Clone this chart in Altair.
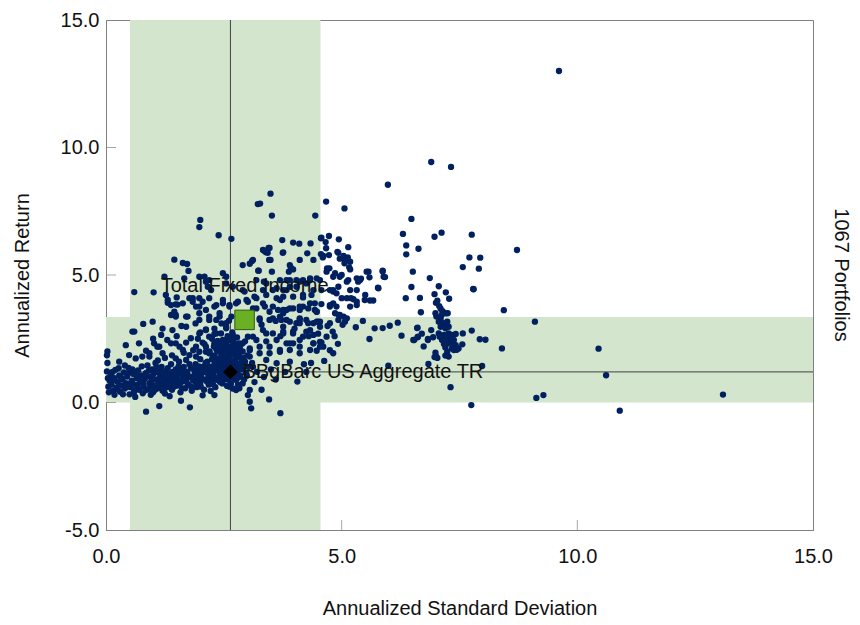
import altair as alt
import pandas as pd

# ---- portfolio points (annualized std dev, annualized return) ----
outliers = [(9.61, 13.0), (6.90, 9.43), (7.32, 9.24), (5.98, 8.54), (6.48, 7.20), (6.30, 6.61),
            (6.97, 6.50), (7.12, 6.66), (7.76, 6.58), (6.37, 6.16), (6.37, 5.81), (6.63, 6.03),
            (8.72, 5.98), (7.71, 5.69), (7.94, 5.68), (7.57, 5.31), (7.91, 5.25), (8.44, 3.62),
            (9.10, 3.17), (8.40, 2.12), (10.45, 2.11), (10.61, 1.07), (13.09, 0.31), (9.13, 0.18),
            (9.28, 0.29), (10.90, -0.32), (7.75, -0.10), (7.31, 0.60), (7.98, 1.43), (7.80, 4.44),
            (7.93, 2.48), (8.05, 2.46), (7.76, 2.82)]

right_cluster = [(5.87, 5.14), (5.92, 4.92), (6.51, 5.13), (6.87, 4.88), (6.48, 4.53), (7.06, 4.56),
                 (6.36, 4.09), (6.66, 4.10), (6.97, 4.25), (7.21, 4.32), (7.28, 4.07), (7.03, 3.99),
                 (7.00, 3.91), (7.07, 3.78), (7.10, 3.68), (7.14, 3.58), (6.99, 3.50), (7.21, 3.50),
                 (7.01, 3.37), (7.10, 3.29), (7.25, 3.50), (6.68, 3.54), (6.19, 3.13), (6.02, 3.01),
                 (5.87, 2.92), (6.61, 2.93), (6.27, 2.62), (7.06, 3.17), (7.17, 3.11), (7.24, 3.17),
                 (7.10, 2.97), (7.20, 2.91), (7.27, 2.97), (7.06, 2.71), (7.17, 2.65), (7.27, 2.71),
                 (7.34, 2.65), (7.42, 2.69), (7.13, 2.45), (7.24, 2.48), (7.32, 2.42), (7.17, 2.29),
                 (7.27, 2.32), (7.38, 2.25), (7.20, 2.16), (7.34, 2.12), (7.44, 2.09), (7.08, 2.58),
                 (6.70, 2.70), (6.90, 2.84), (6.52, 2.45), (6.61, 2.56), (6.74, 2.20), (6.83, 2.49),
                 (6.94, 2.56), (7.57, 2.71), (7.56, 2.28), (7.44, 2.07), (6.84, 1.51), (7.00, 1.82),
                 (6.97, 1.78), (7.20, 1.84), (7.23, 1.88), (7.03, 1.75), (7.27, 1.80), (6.99, 1.95),
                 (7.13, 3.45), (7.31, 2.58), (7.38, 2.45), (7.42, 2.25), (7.24, 1.99), (7.38, 2.06),
                 (7.48, 2.12), (5.70, 2.91), (5.59, 2.49), (6.60, 2.92), (6.54, 2.45), (6.62, 2.58),
                 (6.83, 2.45), (5.99, 1.44), (7.79, 4.45), (5.78, 4.48), (5.60, 4.00), (5.67, 4.00)]

mid_upper = [(4.67, 7.88), (5.06, 7.61), (4.44, 7.33), (4.73, 6.53), (4.94, 6.40), (4.57, 6.46),
             (5.14, 6.09), (4.66, 6.29), (4.61, 5.75), (4.93, 5.87), (5.04, 5.75), (5.07, 5.59),
             (4.96, 5.64), (5.16, 5.30), (4.74, 5.26), (4.68, 5.13), (4.82, 4.93), (4.96, 4.93),
             (5.14, 4.80), (5.57, 5.13), (5.59, 4.91), (5.41, 4.86), (5.35, 4.74), (5.32, 4.41),
             (5.20, 4.09), (5.32, 3.95), (5.77, 4.50), (5.49, 4.02), (4.82, 3.89), (4.89, 4.28),
             (5.00, 4.09), (5.11, 4.09), (5.25, 4.05), (4.94, 3.43), (5.04, 3.37), (5.07, 3.17),
             (4.67, 6.05), (4.73, 5.78), (4.91, 5.91), (5.13, 5.69), (5.06, 5.46), (5.18, 5.52),
             (4.69, 5.26), (4.86, 5.07), (5.00, 5.00), (5.18, 5.22), (5.32, 4.87), (5.53, 5.13),
             (5.39, 4.80), (5.11, 4.74), (4.93, 4.54), (4.82, 4.35), (5.18, 4.41), (5.50, 4.22),
             (4.75, 3.82), (4.89, 3.76), (5.18, 3.76), (5.32, 3.82), (4.96, 3.43), (5.11, 3.30),
             (5.87, 5.17), (5.89, 4.93)]

mid_band = [(4.81, 2.78), (4.57, 2.36), (4.61, 2.19), (4.47, 2.03), (4.63, 1.63), (4.06, 0.82),
            (3.70, -0.42), (4.70, 3.00), (4.85, 2.60), (4.92, 2.30), (5.02, 3.05), (5.30, 2.95),
            (5.45, 3.20), (4.75, 2.05), (3.46, 0.12), (3.05, 0.03), (3.08, -0.23), (2.83, 0.56),
            (3.01, 0.29), (4.25, 1.20), (4.35, 1.55)]

inner_band = [(3.74, 6.37), (3.97, 6.27), (4.10, 6.23), (4.34, 6.24), (4.27, 5.85), (3.76, 5.89),
              (4.56, 6.44), (4.56, 5.82), (4.60, 5.69), (3.90, 5.39), (3.97, 5.22), (4.11, 5.59),
              (4.40, 5.59), (3.88, 5.13), (3.69, 4.80), (3.90, 4.80), (4.11, 4.74), (4.33, 4.80),
              (4.47, 4.87), (3.83, 4.41), (3.97, 4.15), (4.18, 4.22), (4.36, 4.22), (4.43, 3.89),
              (4.57, 3.86), (3.76, 3.63), (3.97, 3.69), (4.18, 3.76), (4.47, 3.56), (3.72, 3.24),
              (3.90, 3.17), (4.04, 3.11), (4.25, 3.24), (4.40, 3.11), (4.54, 3.17), (3.76, 2.71),
              (3.97, 2.78), (4.25, 2.78), (4.40, 2.65), (3.83, 2.32), (4.11, 2.45), (4.54, 2.38),
              (3.49, 8.19), (3.27, 7.80), (3.52, 7.33), (3.33, 5.98), (3.39, 5.89), (3.45, 6.06),
              (3.75, 5.87), (3.12, 5.59), (3.46, 5.59), (3.92, 5.30), (3.24, 5.17), (3.52, 5.13),
              (3.35, 4.74), (3.33, 4.41), (3.62, 4.48), (3.76, 4.41), (3.90, 4.54), (4.04, 4.80),
              (4.18, 4.80), (4.33, 4.87), (3.15, 4.15), (3.40, 4.22), (3.62, 4.09), (3.76, 4.15),
              (4.18, 4.12), (4.57, 4.41), (4.75, 4.41), (3.19, 3.69), (3.37, 3.76), (3.47, 3.56),
              (3.65, 3.63), (3.76, 3.50), (3.90, 3.69), (4.11, 3.63), (4.29, 3.69), (4.43, 3.63),
              (3.26, 3.30), (3.47, 3.24), (3.69, 3.37), (4.11, 3.24), (4.29, 3.11), (4.50, 3.17),
              (3.22, 7.78), (3.10, 5.55), (3.05, 5.44), (2.90, 5.39)]

left_upper = [(2.00, 7.16), (1.98, 6.88), (2.39, 6.56), (2.66, 6.42), (1.45, 5.60), (1.63, 5.47),
              (1.72, 5.43), (1.75, 5.16), (1.01, 4.32), (1.27, 4.22), (1.31, 4.02), (1.48, 3.85),
              (2.09, 4.93), (2.12, 4.74), (2.16, 4.54), (2.23, 4.41), (2.48, 5.07), (2.55, 4.93),
              (2.94, 4.35), (1.84, 4.09), (1.98, 4.09), (2.80, 3.95), (3.01, 3.95), (3.19, 4.09),
              (0.60, 4.33), (1.24, 4.93), (1.66, 4.87), (1.98, 4.93), (2.19, 4.80), (2.55, 4.67),
              (2.69, 4.54), (2.90, 4.41), (3.19, 4.80), (3.40, 4.67), (3.54, 4.41), (3.83, 4.80),
              (4.04, 4.54), (4.25, 4.67), (4.40, 4.41), (4.54, 4.80), (4.82, 4.41), (1.50, 4.12),
              (1.38, 3.82), (1.63, 3.89), (1.77, 4.09), (1.91, 3.76), (2.05, 3.95), (2.19, 4.09),
              (2.34, 3.82), (2.48, 4.02), (2.62, 3.76), (2.76, 3.89), (2.98, 4.02), (3.12, 3.69),
              (3.33, 3.89), (3.54, 3.76), (3.69, 4.02), (3.83, 3.63), (4.11, 3.76), (4.33, 3.89),
              (4.47, 3.56), (4.75, 3.76), (4.86, 3.50), (4.93, 3.24), (1.48, 3.37), (1.70, 3.37),
              (1.98, 3.24), (2.34, 3.24), (2.55, 3.11), (3.26, 3.24), (3.54, 3.30), (3.83, 3.24),
              (4.11, 3.30), (4.47, 3.17), (4.75, 3.11), (1.31, 3.91), (1.52, 3.84), (1.84, 3.95),
              (1.98, 3.76), (2.12, 3.63), (2.30, 3.76), (2.48, 3.89), (2.62, 3.82), (1.38, 3.43),
              (1.48, 3.43), (1.45, 3.56), (1.73, 3.37), (1.98, 3.50), (2.19, 3.37), (2.41, 3.50),
              (2.66, 3.37), (3.36, 5.95), (3.43, 5.87), (3.47, 6.06), (3.49, 5.59), (3.23, 5.17)]

left_band = [(0.79, 3.08), (0.99, 3.17), (0.56, 2.78), (1.17, 2.65), (1.41, 2.84), (1.70, 2.97),
             (1.80, 2.52), (1.98, 2.71), (2.19, 2.58), (2.30, 2.32), (2.44, 2.71), (2.55, 2.45),
             (2.69, 2.65), (2.83, 2.32), (3.01, 2.58), (3.19, 2.45), (3.40, 2.71), (3.62, 2.45),
             (3.76, 2.78), (3.97, 2.32), (4.18, 2.58), (4.40, 2.32), (4.54, 2.19), (4.82, 1.93),
             (0.42, 2.25), (0.70, 2.32), (0.92, 1.93), (1.13, 2.19), (1.48, 2.32), (1.63, 2.06),
             (1.91, 2.19), (2.12, 1.99), (2.34, 2.12), (2.48, 1.93), (2.66, 2.19), (2.83, 1.99),
             (3.05, 2.12), (3.26, 1.93), (3.47, 2.19), (3.69, 1.99), (3.90, 2.06), (4.11, 1.93),
             (4.33, 2.06), (1.02, 2.32), (1.09, 2.19), (0.85, 2.03), (1.38, 2.32), (1.56, 2.19),
             (2.09, 2.29), (2.37, 2.42), (2.44, 2.06), (1.98, 1.99), (1.91, 1.80), (2.19, 1.93),
             (0.60, 2.78), (2.00, 2.75), (2.12, 2.87), (2.30, 2.69), (2.55, 2.91), (2.61, 3.21),
             (2.19, 3.24), (2.41, 3.37), (2.12, 2.84), (2.34, 2.71), (2.55, 2.97), (2.62, 2.45),
             (2.41, 2.19), (2.12, 2.19), (2.27, 1.80), (2.55, 1.80), (2.76, 2.06), (2.90, 2.32),
             (3.12, 2.58), (3.33, 2.84), (3.54, 2.71), (3.76, 2.97), (3.97, 2.71), (4.11, 3.11),
             (4.33, 2.84), (4.54, 2.97), (4.68, 2.58), (4.40, 2.32), (4.11, 2.19), (3.90, 2.32),
             (3.69, 2.06), (3.47, 1.93), (3.26, 2.19), (3.05, 1.80), (2.90, 1.54), (3.12, 1.40),
             (3.40, 1.67), (3.62, 1.54), (2.76, 0.88), (2.90, 0.75), (3.05, 0.49), (2.76, 0.49),
             (2.62, 0.62), (2.41, 1.01), (2.19, 1.15), (2.12, 1.40), (3.20, 1.20), (3.35, 1.00),
             (3.50, 1.30), (3.60, 0.90), (3.80, 1.20), (3.90, 1.60), (4.20, 1.50), (3.40, 2.40),
             (3.70, 2.60), (4.00, 2.90), (4.30, 2.60), (4.50, 2.70), (3.30, 3.05), (3.60, 3.20),
             (3.15, 0.80), (3.30, 0.50), (1.10, 1.65), (1.25, 1.75), (1.40, 1.85), (1.55, 1.60),
             (1.65, 1.95), (1.85, 2.05), (2.00, 1.70), (2.05, 2.35), (1.95, 2.50), (1.70, 2.35),
             (1.50, 2.60), (1.30, 2.45), (1.00, 2.50), (2.25, 2.50), (2.30, 2.90), (2.45, 3.10),
             (1.60, 3.00), (1.90, 3.10), (1.20, 2.90)]

core = [(2.45, 1.90), (2.50, 2.10), (2.55, 2.30), (2.60, 1.80), (2.62, 2.00), (2.65, 2.20),
        (2.68, 1.60), (2.70, 2.40), (2.72, 1.90), (2.75, 1.70), (2.78, 2.10), (2.80, 1.50),
        (2.82, 1.85), (2.85, 2.25), (2.88, 1.65), (2.90, 2.00), (2.30, 1.85), (2.35, 2.05),
        (2.40, 1.55), (2.50, 1.65), (2.55, 1.45), (2.60, 1.25), (2.65, 1.45), (2.70, 1.30),
        (2.75, 1.10), (2.80, 1.25), (2.85, 1.05), (2.90, 1.30), (2.95, 1.60), (3.00, 1.85),
        (3.05, 2.05), (3.10, 1.55), (2.58, 2.60), (2.68, 2.75), (2.48, 2.45), (2.78, 2.55),
        (2.95, 2.40), (2.40, 2.30), (2.20, 2.00), (2.25, 1.70), (2.58, 0.90), (2.70, 0.95),
        (2.52, 1.05), (2.65, 0.75), (2.80, 0.70), (2.42, 1.35), (2.47, 1.15), (2.57, 1.62),
        (2.73, 1.52), (2.86, 1.42), (2.36, 1.72), (2.62, 1.10), (2.92, 1.75), (2.52, 1.85),
        (2.77, 1.98), (2.67, 1.92), (2.44, 1.60), (2.33, 1.38), (2.97, 1.15), (3.02, 1.40)]

blob = [(0.03, 2.00), (0.02, 1.85), (0.03, 1.55), (0.02, 1.22), (0.04, 0.95), (0.05, 0.62),
        (0.08, 0.85), (0.10, 1.08), (0.12, 0.70), (0.15, 0.45), (0.18, 0.95), (0.20, 1.28),
        (0.22, 0.58), (0.25, 0.80), (0.28, 1.05), (0.30, 0.42), (0.32, 0.66), (0.35, 0.90),
        (0.38, 1.18), (0.40, 0.55), (0.42, 0.76), (0.45, 1.02), (0.48, 1.36), (0.50, 0.32),
        (0.52, 0.60), (0.55, 0.86), (0.58, 1.12), (0.60, 0.46), (0.62, 0.70), (0.65, 0.96),
        (0.68, 1.26), (0.70, 0.50), (0.72, 0.82), (0.75, 1.06), (0.78, 0.36), (0.80, 0.62),
        (0.82, 0.92), (0.85, 1.16), (0.88, 1.45), (0.90, 0.52), (0.92, 0.76), (0.95, 1.00),
        (0.98, 1.30), (1.00, 0.40), (1.02, 0.66), (1.05, 0.90), (1.08, 1.20), (1.10, 0.56),
        (1.12, 0.80), (1.15, 1.04), (1.18, 1.40), (1.20, 0.46), (1.22, 0.70), (1.25, 0.96),
        (1.28, 1.24), (1.30, 0.60), (1.32, 0.86), (1.35, 1.10), (1.38, 1.50), (1.40, 0.50),
        (1.42, 0.76), (1.45, 1.00), (1.48, 1.30), (1.50, 0.66), (1.52, 0.90), (1.55, 1.16),
        (1.58, 0.40), (1.60, 0.80), (1.62, 1.06), (1.65, 1.40), (1.68, 0.56), (1.70, 0.96),
        (1.72, 1.20), (1.75, 0.70), (1.78, 1.00), (1.80, 1.36), (1.82, 0.46), (1.85, 0.86),
        (1.88, 1.10), (1.90, 1.50), (1.92, 0.60), (1.95, 0.96), (1.98, 1.26), (2.00, 0.76),
        (2.02, 1.06), (2.05, 1.40), (2.08, 0.50), (2.10, 0.90), (2.12, 1.20), (2.15, 1.60),
        (2.18, 0.70), (2.20, 1.00), (2.22, 1.30), (2.25, 0.86), (2.28, 1.16), (2.30, 1.50),
        (2.32, 0.60), (2.35, 0.96), (2.38, 1.26), (2.40, 1.70), (2.42, 0.80), (2.45, 1.10),
        (2.48, 1.46), (2.50, 0.90), (2.52, 1.30), (2.55, 1.60), (2.58, 1.00), (2.60, 1.40),
        (0.28, 1.60), (0.49, 1.86), (0.63, 1.73), (0.77, 1.80), (0.92, 1.80), (1.20, 1.93),
        (1.48, 1.73), (1.70, 1.67), (1.77, 1.86), (0.85, -0.36), (1.13, -0.14), (1.78, -0.19),
        (1.59, 0.07), (2.30, 0.29), (0.18, 0.30), (0.62, 0.22), (1.35, 0.25), (2.05, 0.28),
        (0.40, 1.45), (1.05, 1.55), (1.58, 1.25), (2.22, 0.45), (0.95, 0.30), (1.25, 0.35)]

blob_dense = [(0.06, 0.40), (0.14, 1.20), (0.16, 0.88), (0.24, 0.52), (0.27, 1.35), (0.33, 0.95),
              (0.36, 0.32), (0.44, 0.62), (0.47, 1.15), (0.53, 0.78), (0.56, 1.30), (0.59, 0.38),
              (0.64, 1.08), (0.67, 0.62), (0.73, 0.95), (0.76, 1.42), (0.79, 0.72), (0.84, 0.48),
              (0.87, 1.02), (0.91, 1.25), (0.94, 0.62), (0.97, 0.86), (1.01, 1.12), (1.04, 0.50),
              (1.07, 1.40), (1.11, 0.92), (1.14, 0.68), (1.17, 1.22), (1.21, 0.85), (1.24, 0.55),
              (1.27, 1.08), (1.31, 1.35), (1.34, 0.72), (1.37, 0.95), (1.41, 1.20), (1.44, 0.62),
              (1.47, 0.85), (1.51, 1.10), (1.54, 1.42), (1.57, 0.75), (1.61, 0.55), (1.64, 0.92),
              (1.67, 1.22), (1.71, 0.80), (1.74, 1.05), (1.77, 1.50), (1.81, 0.62), (1.84, 1.00),
              (1.87, 1.28), (1.91, 0.78), (1.94, 1.12), (1.97, 1.42), (2.01, 0.62), (2.04, 0.92),
              (2.07, 1.22), (2.11, 1.55), (2.14, 0.82), (2.17, 1.08), (2.21, 1.40), (2.24, 1.05),
              (2.27, 0.72), (2.31, 1.28), (2.34, 1.62), (2.37, 0.88), (2.41, 1.15), (2.44, 1.45),
              (2.47, 0.75), (2.51, 1.20), (2.54, 1.75), (2.57, 1.35), (2.61, 1.55), (2.64, 1.85),
              (2.67, 1.20), (2.71, 1.65), (2.74, 2.05), (2.77, 1.40), (2.81, 1.80), (2.84, 2.10),
              (2.59, 2.15), (2.69, 2.55), (2.49, 2.25), (2.63, 2.45), (2.73, 2.30), (2.53, 1.95),
              (2.43, 1.75), (2.39, 2.00), (2.29, 2.20), (2.57, 0.65), (2.69, 0.55), (2.81, 0.98),
              (2.93, 0.90), (2.99, 1.05)]

portfolio_pts = (outliers + right_cluster + mid_upper + mid_band + inner_band + left_upper
                 + left_band + core + blob + blob_dense)

# ---- reference items ----
bench_name = ["BBgBarc US Aggregate TR"]
bench_sd = [2.64]
bench_ret = [1.20]
total_name = ["Total Fixed Income"]
total_sd = [2.94]
total_ret = [3.24]

# shaded ranges
vband_x = [0.51, 4.55]
hband_y = [0.0, 3.35]
x_ticks = [5, 10]
y_ticks = [0, 5, 10]

FONT = "Liberation Sans, Arial, sans-serif"
NAVY = "#002060"
TXT = "#111111"
LBL = "datum.value < 0 ? '-' + format(-datum.value, '.1f') : format(datum.value, '.1f')"

pts = pd.DataFrame(portfolio_pts, columns=["sd", "ret"])
bench = pd.DataFrame({"sd": bench_sd, "ret": bench_ret, "name": bench_name})
total = pd.DataFrame({"sd": total_sd, "ret": total_ret, "name": total_name})
vband = pd.DataFrame({"x0": [vband_x[0]], "x1": [vband_x[1]], "y0": [-5.0], "y1": [15.0]})
hband = pd.DataFrame({"x0": [0.0], "x1": [15.0], "y0": [hband_y[0]], "y1": [hband_y[1]]})

xs = alt.Scale(domain=[0, 15], nice=False, zero=False)
ys = alt.Scale(domain=[-5, 15], nice=False, zero=False)

xaxis = alt.Axis(title="Annualized Standard Deviation", values=[0, 5, 10, 15], labelExpr=LBL,
                 grid=False, ticks=False, labelFlush=False, labelPadding=16, titlePadding=32,
                 labelFont=FONT, titleFont=FONT, labelFontSize=20, titleFontSize=20,
                 labelColor=TXT, titleColor=TXT, titleFontWeight="normal", domainColor="#808080")
yaxis = alt.Axis(title="Annualized Return", values=[-5, 0, 5, 10, 15], labelExpr=LBL,
                 grid=False, ticks=False, labelFlush=False, labelPadding=7, titlePadding=28,
                 labelFont=FONT, titleFont=FONT, labelFontSize=20, titleFontSize=20,
                 labelColor=TXT, titleColor=TXT, titleFontWeight="normal", domainColor="#808080")

band_color = "#d3e5cd"
vrect = alt.Chart(vband).mark_rect(color=band_color).encode(
    x=alt.X("x0:Q", scale=xs, axis=xaxis), x2="x1:Q",
    y=alt.Y("y0:Q", scale=ys, axis=yaxis), y2="y1:Q")
hrect = alt.Chart(hband).mark_rect(color=band_color).encode(
    x=alt.X("x0:Q", scale=xs), x2="x1:Q", y=alt.Y("y0:Q", scale=ys), y2="y1:Q")

vline = alt.Chart(bench).mark_rule(color="#404040", strokeWidth=1).encode(x=alt.X("sd:Q", scale=xs))
hline = alt.Chart(bench).mark_rule(color="#404040", strokeWidth=1).encode(y=alt.Y("ret:Q", scale=ys))

xt = alt.Chart(pd.DataFrame({"v": x_ticks})).mark_tick(orient="vertical", color="#808080", size=10, thickness=1).encode(
    x=alt.X("v:Q", scale=xs), y=alt.value(505))
yt = alt.Chart(pd.DataFrame({"v": y_ticks})).mark_tick(orient="horizontal", color="#808080", size=10, thickness=1).encode(
    y=alt.Y("v:Q", scale=ys), x=alt.value(5))

dots = alt.Chart(pts).mark_circle(color=NAVY, opacity=1, size=40).encode(
    x=alt.X("sd:Q", scale=xs), y=alt.Y("ret:Q", scale=ys))

sq = alt.Chart(total).mark_square(color="#6ab023", stroke="#2f5a10", strokeWidth=1, opacity=1, size=380, filled=True).encode(
    x=alt.X("sd:Q", scale=xs), y=alt.Y("ret:Q", scale=ys))
sq_lbl = alt.Chart(total).mark_text(font=FONT, fontSize=20, color=TXT, dy=-34, align="center", baseline="middle").encode(
    x=alt.X("sd:Q", scale=xs), y=alt.Y("ret:Q", scale=ys), text="name:N")

dia = alt.Chart(bench).mark_point(shape="diamond", filled=True, color="#000000", opacity=1, size=220).encode(
    x=alt.X("sd:Q", scale=xs), y=alt.Y("ret:Q", scale=ys))
dia_lbl = alt.Chart(bench).mark_text(font=FONT, fontSize=20, color=TXT, dx=12, align="left", baseline="middle").encode(
    x=alt.X("sd:Q", scale=xs), y=alt.Y("ret:Q", scale=ys), text="name:N")

side = alt.Chart(pd.DataFrame({"t": ["1067 Portfolios"]})).mark_text(
    font=FONT, fontSize=20, angle=90, color=TXT, align="center", baseline="middle").encode(
    x=alt.value(735), y=alt.value(255), text="t:N")

chart = alt.layer(vrect, hrect, vline, hline, xt, yt, dots, sq, sq_lbl, dia, dia_lbl, side).properties(
    width=707, height=510,
    background="white",
    autosize=alt.AutoSizeParams(type="none"),
    padding={"left": 98, "top": 12, "right": 39, "bottom": 87},
).configure_view(stroke="#808080", strokeWidth=1)

chart.save("out.html", embed_options={"renderer": "svg", "actions": False})
